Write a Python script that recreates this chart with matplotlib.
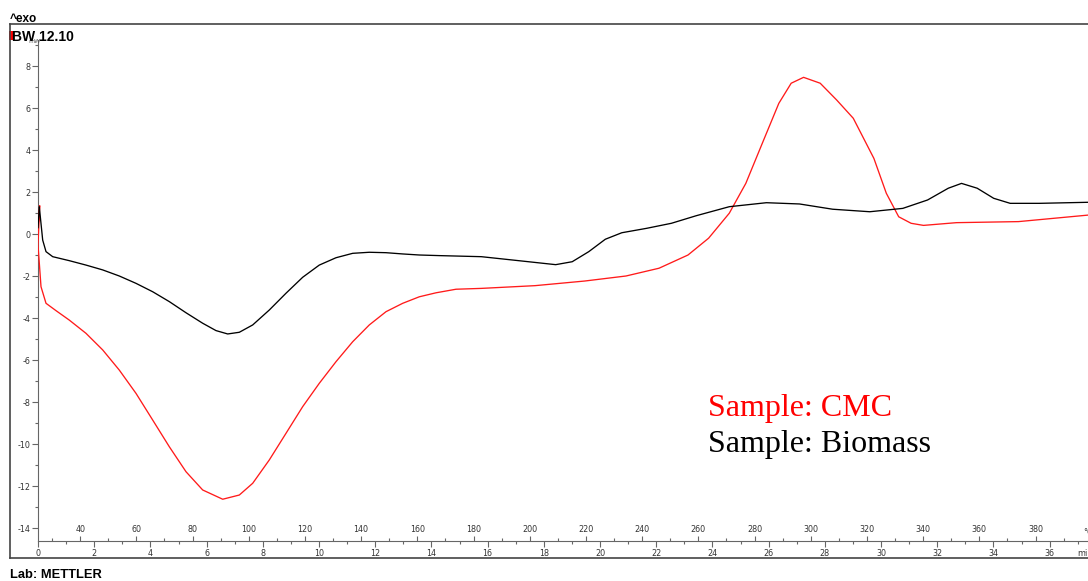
import matplotlib
matplotlib.use("Agg")
import matplotlib.pyplot as plt
from matplotlib.ticker import MultipleLocator, FixedLocator
from matplotlib.lines import Line2D
from matplotlib.patches import Rectangle

plt.rcParams["axes.unicode_minus"] = False

# ---- data (time in min, heat flow in mW) ----
biomass_t = [0.0, 0.046, 0.167, 0.285, 0.523, 1.114, 1.708, 2.302, 2.893, 3.488, 4.082,
             4.673, 5.267, 5.861, 6.335, 6.751, 7.164, 7.641, 8.231, 8.826, 9.42, 10.01,
             10.605, 11.199, 11.79, 12.384, 12.979, 13.569, 14.306, 15.776, 17.245,
             18.423, 19.011, 19.601, 20.189, 20.776, 21.658, 22.541, 23.423, 24.601,
             25.922, 27.1, 28.278, 29.601, 30.776, 31.658, 32.395, 32.865, 33.423,
             34.01, 34.598, 35.63, 37.367]
biomass_y = [0.29, 1.30, -0.29, -0.84, -1.08, -1.27, -1.48, -1.71, -2.0, -2.35, -2.75,
             -3.22, -3.75, -4.25, -4.60, -4.76, -4.68, -4.33, -3.62, -2.82, -2.06, -1.48,
             -1.13, -0.92, -0.87, -0.89, -0.95, -1.0, -1.03, -1.08, -1.29,
             -1.46, -1.32, -0.84, -0.25, 0.06, 0.27, 0.51, 0.87, 1.30,
             1.49, 1.43, 1.18, 1.06, 1.22, 1.62, 2.18, 2.41, 2.18,
             1.70, 1.46, 1.46, 1.51]

cmc_t = [0.0, 0.06, 0.0, 0.107, 0.285, 0.641, 1.114, 1.708, 2.302, 2.893, 3.488, 4.082,
         4.673, 5.267, 5.861, 6.573, 7.164, 7.641, 8.231, 8.826, 9.42, 10.01, 10.605,
         11.199, 11.79, 12.384, 12.979, 13.569, 14.164, 14.875, 15.776, 17.687, 19.452,
         20.925, 22.1, 23.132, 23.865, 24.601, 25.189, 25.776, 26.363, 26.804, 27.245,
         27.836, 28.423, 29.014, 29.747, 30.189, 30.63, 31.071, 31.512, 32.687, 34.893,
         37.367]
cmc_y = [0.3, 1.35, -0.52, -2.51, -3.30, -3.65, -4.10, -4.73, -5.52, -6.48, -7.59, -8.86,
         -10.13, -11.32, -12.19, -12.63, -12.43, -11.87, -10.76, -9.49, -8.22, -7.11, -6.08,
         -5.13, -4.33, -3.70, -3.30, -2.99, -2.80, -2.63, -2.59, -2.46, -2.24,
         -2.0, -1.63, -1.0, -0.20, 0.99, 2.41, 4.32, 6.22, 7.18, 7.46,
         7.18, 6.38, 5.51, 3.60, 1.94, 0.82, 0.51, 0.41, 0.54, 0.59,
         0.90]

y_major = [-14, -12, -10, -8, -6, -4, -2, 0, 2, 4, 6, 8]
y_minor = [-13, -11, -9, -7, -5, -3, -1, 1, 3, 5, 7, 9]

W, H = 1088, 581
fig = plt.figure(figsize=(W / 100, H / 100), dpi=100)

def fx(px):
    return px / W

def fy(py):
    return 1 - py / H

ax_left, ax_right, ax_top, ax_bot = 38, 1088, 24, 541
ax = fig.add_axes([fx(ax_left), fy(ax_bot), fx(ax_right - ax_left), (ax_bot - ax_top) / H])
ax.set_xlim(0, (ax_right - ax_left) / 28.1)
ax.set_ylim(-(ax_bot - 234) / 21, (234 - ax_top) / 21)

ax.plot(cmc_t, cmc_y, color="#ff1a1a", lw=0.95, zorder=3,
        solid_joinstyle="round", solid_capstyle="round")
ax.plot(biomass_t, biomass_y, color="black", lw=0.95, zorder=4,
        solid_joinstyle="round", solid_capstyle="round")

for s in ["top", "right"]:
    ax.spines[s].set_visible(False)
ax.spines["left"].set_color("#666666")
ax.spines["bottom"].set_color("#666666")
ax.spines["left"].set_bounds(-(ax_bot - 234) / 21, 9.25)

ax.yaxis.set_major_locator(FixedLocator(y_major))
ax.yaxis.set_minor_locator(FixedLocator(y_minor))
ax.xaxis.set_major_locator(MultipleLocator(2))
ax.xaxis.set_minor_locator(MultipleLocator(1))
ax.tick_params(axis="both", which="major", labelsize=5.8, labelcolor="#333333",
               color="#666666", width=0.8, length=4, pad=1.5)
ax.tick_params(axis="both", which="minor", color="#666666", width=0.8, length=2.5)
ax.tick_params(axis="x", which="major", pad=2)

sec = ax.secondary_xaxis(0, functions=(lambda t: 25 + 10 * t, lambda T: (T - 25) / 10))
sec.set_alignment("top")
sec.xaxis.set_major_locator(MultipleLocator(20))
sec.xaxis.set_minor_locator(MultipleLocator(10))
sec.tick_params(axis="x", which="major", labelsize=5.8, labelcolor="#333333",
                color="#666666", width=0.8, length=3.5, pad=1.5, direction="out")
sec.tick_params(axis="x", which="minor", color="#666666", width=0.8, length=2.5, direction="out")
for s in sec.spines.values():
    s.set_visible(False)

# outer frame
fc = "#444444"
fig.add_artist(Line2D([fx(10), 1], [fy(24), fy(24)], color=fc, lw=1.2))
fig.add_artist(Line2D([fx(10), fx(10)], [fy(24), fy(558)], color=fc, lw=1.2))
fig.add_artist(Line2D([fx(10), 1], [fy(558), fy(558)], color=fc, lw=1.2))

# header texts
fig.text(fx(28), fy(43), "mW", fontsize=4.5, color="#555555", va="baseline", ha="left")
fig.add_artist(Rectangle((fx(9), fy(40)), fx(5), 9 / H, color="#ff0000", lw=0))
fig.text(fx(9.5), fy(22), "^exo", fontsize=8.5, fontweight="bold", family="Liberation Sans",
         va="baseline", ha="left")
fig.text(fx(12), fy(41), "BW 12.10", fontsize=10, fontweight="bold", family="Liberation Sans",
         va="baseline", ha="left")
fig.text(fx(10), fy(578), "Lab: METTLER", fontsize=9.3, fontweight="bold", family="Liberation Sans",
         va="baseline", ha="left")
fig.text(fx(1077), fy(556), "min", fontsize=5.8, color="#333333", va="baseline", ha="left")
fig.text(fx(1083), fy(535), "°C", fontsize=5.8, color="#333333", va="baseline", ha="left")

# sample labels
fig.text(fx(708), fy(416), "Sample: CMC", fontsize=23, color="#ff0000",
         family="Liberation Serif", va="baseline", ha="left")
fig.text(fx(708), fy(452), "Sample: Biomass", fontsize=23, color="black",
         family="Liberation Serif", va="baseline", ha="left")

fig.savefig("out.png", dpi=100)
